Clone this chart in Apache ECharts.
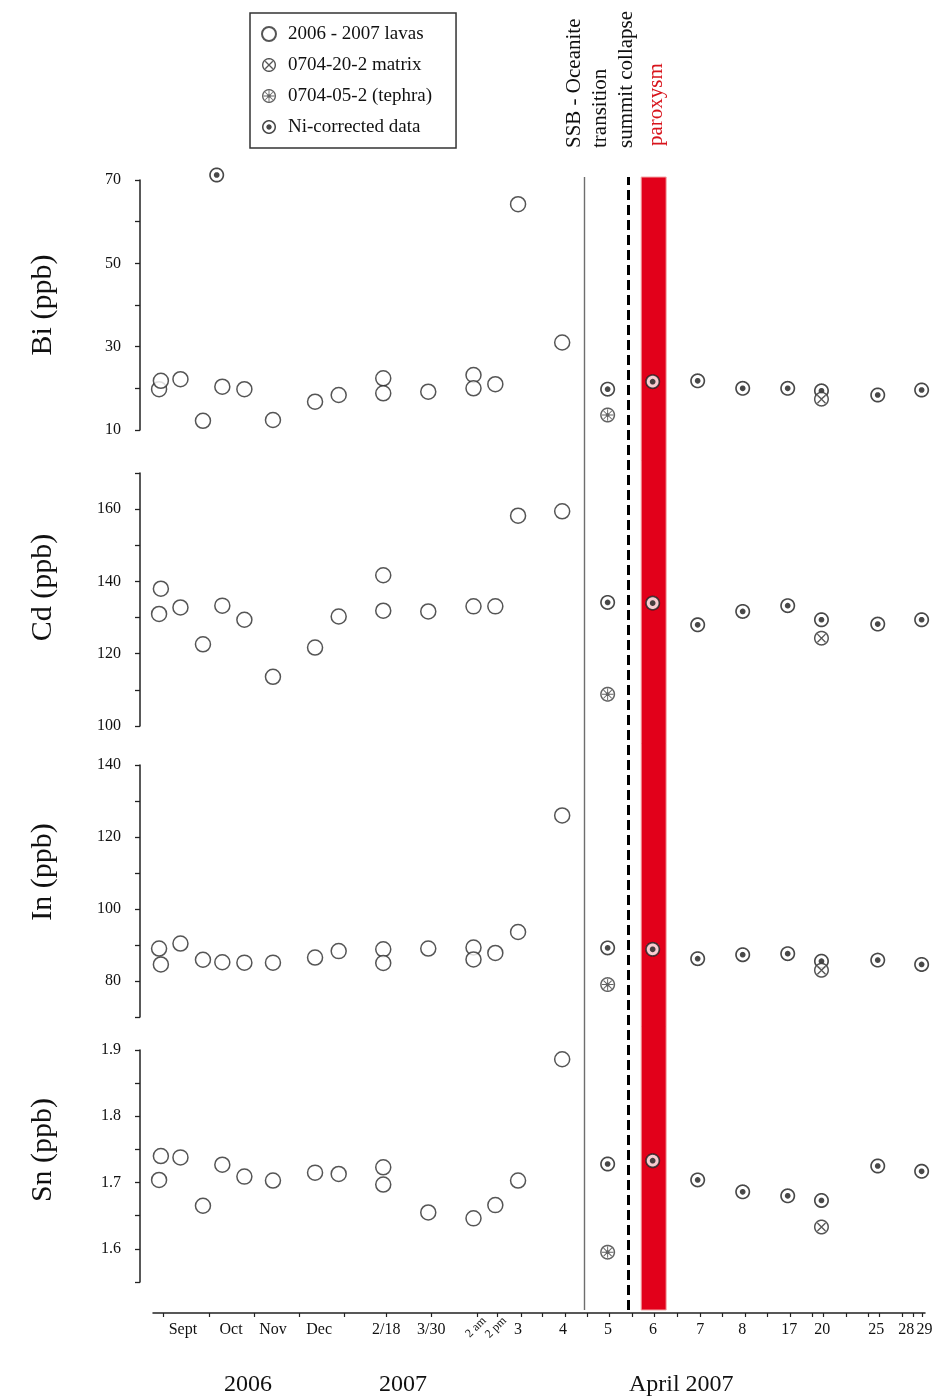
<!DOCTYPE html>
<html><head><meta charset="utf-8">
<script src="https://cdn.jsdelivr.net/npm/echarts@6.0.0/dist/echarts.min.js"></script>
<style>html,body{margin:0;padding:0;background:#fff}#c{width:937px;height:1397px}</style>
</head><body><div id="c"></div>
<script>
// ---------------- DATA ----------------
// x = position along the (irregular) sampling axis, in axis units
const lavaX   = [0.27, 0.35, 1.22, 2.22, 3.08, 4.06, 5.33, 7.2, 8.25, 10.23, 10.23, 12.23, 14.24, 14.24, 15.21, 16.22, 18.18];
const biLavas = [19.8, 21.8, 22.2, 12.2, 20.4, 19.8, 12.4, 16.8, 18.4, 22.4, 18.8, 19.2, 23.2, 20.0, 21.0, 64.2, 31.0];
const cdLavas = [131.0, 138.0, 132.8, 122.6, 133.3, 129.4, 113.6, 121.7, 130.3, 141.7, 131.9, 131.7, 133.1, null, 133.1, 158.2, 159.4];
const inLavas = [89.0, 84.6, 90.4, 85.9, 85.2, 85.1, 85.1, 86.5, 88.3, 88.8, 85.0, 89.0, 89.3, 86.0, 87.8, 93.6, 126.0];
const snLavas = [1.704, 1.740, 1.738, 1.665, 1.727, 1.709, 1.703, 1.715, 1.713, 1.723, 1.697, 1.655, 1.646, null, 1.666, 1.703, 1.886];

const aprilX = [20.2, 22.2, 24.2, 26.2, 28.2, 29.7, 32.2, 34.15]; // April 5,6,7,8,17,20,25,29
const biNi = [19.8, 21.6, 21.8, 20.0, 20.0, 19.4, 18.4, 19.6];
const cdNi = [134.2, 134.0, 128.0, 131.7, 133.3, 129.4, 128.2, 129.4];
const inNi = [89.2, 88.8, 86.2, 87.3, 87.6, 85.5, 85.8, 84.6];
const snNi = [1.728, 1.733, 1.704, 1.686, 1.680, 1.673, 1.725, 1.717];
const biNiExtra = [[2.83, 71.2]];   // Oct 2006 Ni-corrected point

const tephraX = 20.2;               // 0704-05-2 (April 5)
const tephraVals = [13.6, 108.8, 79.0, 1.595];
const matrixX = 29.7;               // 0704-20-2 (April 20)
const matrixVals = [17.4, 124.3, 83.0, 1.633];

const xTicks = [0.46, 2.49, 4.49, 6.5, 8.5, 10.36, 12.36, 14.39, 15.28, 16.34, 17.28, 18.31, 19.28, 20.28, 21.28, 22.28, 23.28, 24.31, 25.3, 26.31, 27.3, 28.31, 29.28, 29.76, 30.8, 31.79, 32.28, 33.28, 33.76, 34.16];
const xLabelPos  = [1.33, 3.47, 5.33, 7.38, 10.36, 12.36, 16.22, 18.22, 20.22, 22.22, 24.31, 26.18, 28.27, 29.73, 32.13, 33.47, 34.28];
const xLabelText = ['Sept', 'Oct', 'Nov', 'Dec', '2/18', '3/30', '3', '4', '5', '6', '7', '8', '17', '20', '25', '28', '29'];
const xRotPos  = [14.72, 15.62];
const xRotText = ['2 am', '2 pm'];
const yearPos  = [4.22, 11.11, 23.47];
const yearText = ['2006', '2007', 'April 2007'];

const ssbLineX = 19.16;      // SSB - Oceanite transition
const collapseX = 21.1;      // summit collapse
const paroxysmX = [21.69, 22.8];

const elemNames = ['Bi (ppb)', 'Cd (ppb)', 'In (ppb)', 'Sn (ppb)'];
const yMins = [10, 100, 70, 1.55];
const yMaxs = [70, 170, 140, 1.9];
const yIntervals = [10, 10, 10, 0.05];

// ---------------- STYLE / LAYOUT ----------------
const FONT = 'Liberation Serif';
const XMAX = 34.3;
const GL = 153, GW = 772;
const gridTops = [180, 473, 765, 1050];
const gridHeights = [250, 253, 252, 232];
const namePads = [0, 24, 38, 32];

function ring(r, cw, N = 48) {
  const pts = [];
  for (let k = 0; k < N; k++) {
    const a = (cw ? 1 : -1) * 2 * Math.PI * k / N;
    pts.push((50 + r * Math.cos(a)).toFixed(2) + ' ' + (50 + r * Math.sin(a)).toFixed(2));
  }
  return 'M' + pts.join(' L') + ' Z ';
}
function bar(deg, L, w) {
  const t = deg * Math.PI / 180, ux = Math.cos(t), uy = Math.sin(t), nx = -uy, ny = ux;
  const p = [[50 + L * ux - w * nx, 50 + L * uy - w * ny], [50 + L * ux + w * nx, 50 + L * uy + w * ny],
             [50 - L * ux + w * nx, 50 - L * uy + w * ny], [50 - L * ux - w * nx, 50 - L * uy - w * ny]];
  return 'M' + p.map(q => q[0].toFixed(2) + ' ' + q[1].toFixed(2)).join(' L') + ' Z ';
}
const niPath = 'path://' + ring(50, true) + ring(39, false) + ring(19, true);
const matrixPath = 'path://' + ring(50, true) + ring(40, false) + bar(45, 38, 4.5) + bar(135, 38, 4.5);
const tephraPath = 'path://' + ring(50, true) + ring(40, false) + bar(0, 38, 3.2) + bar(45, 38, 3.2) + bar(90, 38, 3.2) + bar(135, 38, 3.2) + ring(13, true);

const N_LAVA = '2006 - 2007 lavas', N_MAT = '0704-20-2 matrix', N_TEP = '0704-05-2 (tephra)', N_NI = 'Ni-corrected data';

function nearestLabel(v, pos, txt) {
  let bi = 0;
  for (let i = 1; i < pos.length; i++) if (Math.abs(pos[i] - v) < Math.abs(pos[bi] - v)) bi = i;
  return Math.abs(pos[bi] - v) < 0.05 ? txt[bi] : '';
}

const lavaSets = [biLavas, cdLavas, inLavas, snLavas];
const niSets = [biNi, cdNi, inNi, snNi];
const labelFns = [
  v => ((Math.round(v) - 10) % 20 === 0 ? String(Math.round(v)) : ''),
  v => (Math.round(v) % 20 === 0 ? String(Math.round(v)) : ''),
  v => (Math.round(v) % 20 === 0 ? String(Math.round(v)) : ''),
  v => (Math.round(v * 100) % 10 === 0 ? v.toFixed(1) : '')
];

const grid = [], xAxis = [], yAxis = [], series = [];
for (let i = 0; i < 4; i++) {
  grid.push({ left: GL, width: GW, top: gridTops[i], height: gridHeights[i], containLabel: false });
  const last = i === 3;
  xAxis.push({
    gridIndex: i, type: 'value', min: 0, max: XMAX, position: 'bottom',
    show: last, offset: last ? 31 : 0,
    axisLine: { show: last, onZero: false, lineStyle: { color: '#222', width: 1.5 } },
    axisTick: { show: last, customValues: xTicks, length: 4, lineStyle: { color: '#222', width: 1.2 } },
    axisLabel: { show: last, customValues: xLabelPos, formatter: v => nearestLabel(v, xLabelPos, xLabelText),
                 fontFamily: FONT, fontSize: 16, color: '#111', margin: 9 },
    splitLine: { show: false }
  });
  yAxis.push({
    gridIndex: i, type: 'value', min: yMins[i], max: yMaxs[i], interval: yIntervals[i], offset: 13,
    axisLine: { show: true, onZero: false, lineStyle: { color: '#222', width: 1.5 } },
    axisTick: { show: true, length: 5, lineStyle: { color: '#222', width: 1.3 } },
    axisLabel: { formatter: labelFns[i], fontFamily: FONT, fontSize: 16, color: '#111', margin: 19 },
    splitLine: { show: false },
    name: elemNames[i], nameLocation: 'middle', nameGap: 82,
    nameTextStyle: { fontFamily: FONT, fontSize: 30, color: '#111', padding: [0, 0, 0, namePads[i]] }
  });

  const lavData = [];
  lavaX.forEach((x, k) => { if (lavaSets[i][k] != null) lavData.push([x, lavaSets[i][k]]); });
  const niData = aprilX.map((x, k) => [x, niSets[i][k]]);
  if (i === 0) biNiExtra.forEach(p => niData.push(p));
  const tepData = [[tephraX, tephraVals[i]]];
  const matData = [[matrixX, matrixVals[i]]];
  const base = { type: 'scatter', xAxisIndex: i, yAxisIndex: i, clip: false, silent: true, emphasis: { disabled: true } };

  series.push(Object.assign({}, base, { name: N_LAVA, data: lavData, symbol: 'circle', symbolSize: 15, z: 3,
    itemStyle: { color: '#fff', borderColor: '#2b2b2b', borderWidth: 1.5 } }));
  series.push(Object.assign({}, base, { name: '_bg1', data: niData.concat(tepData), symbol: 'circle', symbolSize: 14, z: 4,
    itemStyle: { color: '#fff' } }));
  series.push(Object.assign({}, base, { name: N_NI, data: niData, symbol: niPath, symbolSize: 15, z: 5,
    itemStyle: { color: '#1a1a1a' } }));
  series.push(Object.assign({}, base, { name: N_TEP, data: tepData, symbol: tephraPath, symbolSize: 15, z: 5,
    itemStyle: { color: '#3c3c3c' } }));
  series.push(Object.assign({}, base, { name: '_bg2', data: matData, symbol: 'circle', symbolSize: 14, z: 6,
    itemStyle: { color: '#fff' } }));
  series.push(Object.assign({}, base, { name: N_MAT, data: matData, symbol: matrixPath, symbolSize: 15, z: 7,
    itemStyle: { color: '#2b2b2b' } }));
}
// rotated labels + year labels on the bottom grid
xAxis.push({
  gridIndex: 3, type: 'value', min: 0, max: XMAX, position: 'bottom', offset: 31,
  axisLine: { show: false, onZero: false }, axisTick: { show: false }, splitLine: { show: false },
  axisLabel: { customValues: xRotPos, formatter: v => nearestLabel(v, xRotPos, xRotText), rotate: 45,
               fontFamily: FONT, fontSize: 12, color: '#111', margin: 6 }
});
xAxis.push({
  gridIndex: 3, type: 'value', min: 0, max: XMAX, position: 'bottom', offset: 31,
  axisLine: { show: false, onZero: false }, axisTick: { show: false }, splitLine: { show: false },
  axisLabel: { customValues: yearPos, formatter: v => nearestLabel(v, yearPos, yearText),
               fontFamily: FONT, fontSize: 24, color: '#111', margin: 60 }
});
// overlay grid for the event lines / band
grid.push({ left: GL, width: GW, top: 177, height: 1133 });
xAxis.push({ gridIndex: 4, type: 'value', min: 0, max: XMAX, show: false });
yAxis.push({ gridIndex: 4, type: 'value', min: 0, max: 1, show: false });
series.unshift({
  name: '_events', type: 'scatter', xAxisIndex: 6, yAxisIndex: 4, data: [], z: 1, silent: true,
  markArea: { silent: true, itemStyle: { color: '#e2001a', borderColor: '#f3a9a9', borderWidth: 1 },
              data: [[{ xAxis: paroxysmX[0] }, { xAxis: paroxysmX[1] }]] },
  markLine: { silent: true, symbol: ['none', 'none'], label: { show: false },
    data: [
      { xAxis: ssbLineX, lineStyle: { color: '#6e6e6e', width: 1.4, type: 'solid' } },
      { xAxis: collapseX, lineStyle: { color: '#000', width: 3, type: [10, 5] } }
    ] }
});

const vText = (t, x, y, color) => ({
  type: 'text', x: x, y: y, rotation: Math.PI / 2,
  style: { text: t, font: '21px "' + FONT + '"', fill: color, textAlign: 'left', align: 'left',
           textVerticalAlign: 'middle', verticalAlign: 'middle' }
});

const chart = echarts.init(document.getElementById('c'), null, { renderer: 'canvas' });
chart.setOption({
  animation: false,
  backgroundColor: '#fff',
  grid, xAxis, yAxis, series,
  legend: {
    orient: 'vertical', left: 250, top: 13,
    padding: [11, 24, 11, 11], borderColor: '#333', borderWidth: 1.5,
    itemWidth: 14, itemHeight: 14, itemGap: 11, selectedMode: false,
    textStyle: { fontFamily: FONT, fontSize: 19, color: '#111', lineHeight: 20, padding: [0, 0, 0, 7] },
    data: [
      { name: N_LAVA, icon: 'circle' },
      { name: N_MAT, icon: matrixPath },
      { name: N_TEP, icon: tephraPath },
      { name: N_NI, icon: niPath }
    ]
  },
  graphic: [
    vText('SSB - Oceanite', 574, 148, '#111'),
    vText('transition', 600, 148, '#111'),
    vText('summit collapse', 626, 148, '#111'),
    vText('paroxysm', 656, 146, '#d8141c')
  ]
});
</script></body></html>
